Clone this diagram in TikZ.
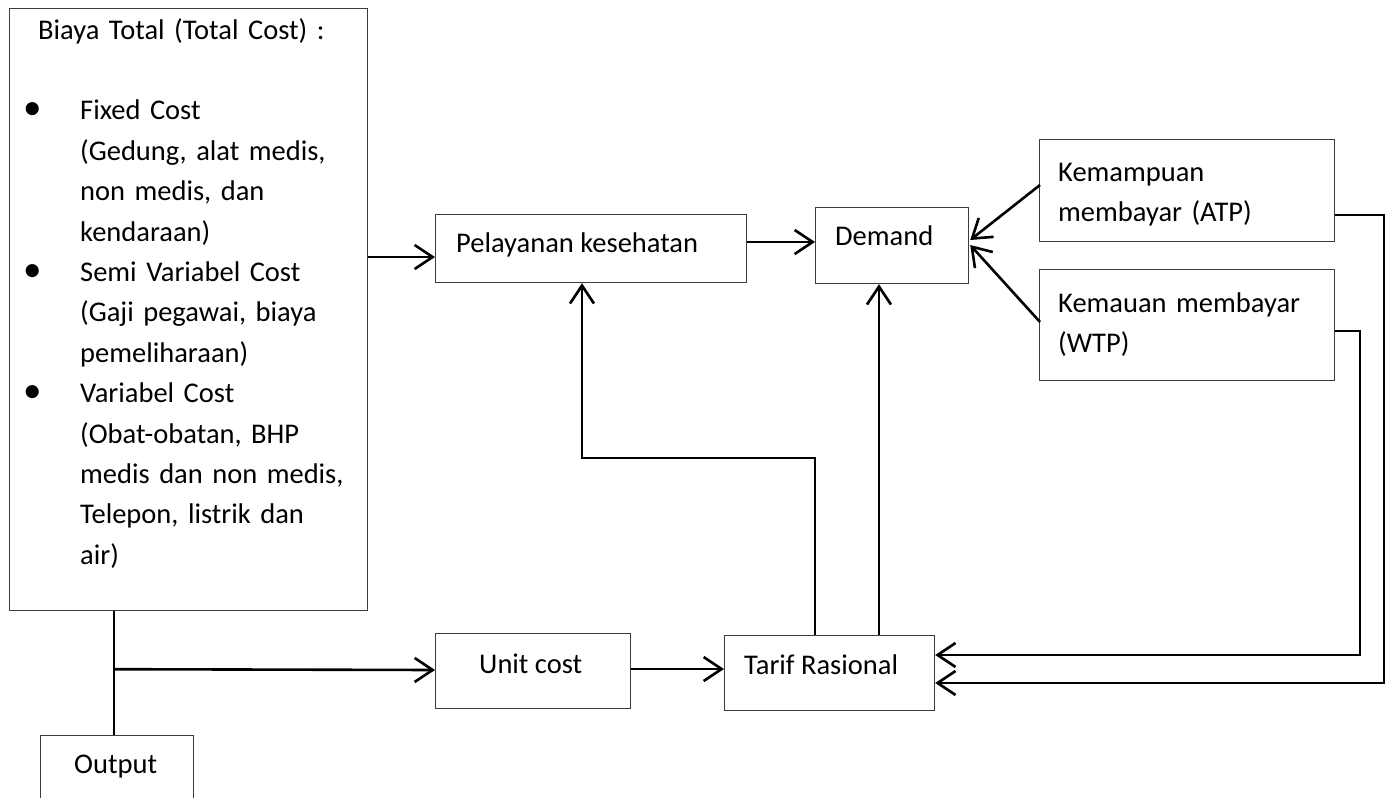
\documentclass[tikz,border=0pt]{standalone}
\usepackage{fontspec}
\setmainfont{Carlito}
\usetikzlibrary{arrows.meta,calc}
\definecolor{boxc}{RGB}{60,60,60}
\newcommand\itembul{\makebox[56pt][l]{\hspace*{-1pt}\scalebox{1.3}{\textbullet}}}
\newcommand\itemind{\hspace*{56pt}}
\begin{document}
\begin{tikzpicture}[x=1pt,y=-1pt,
  box/.style={draw=boxc, line width=1.2pt, inner sep=0pt, anchor=north west},
  txt/.style={inner sep=0pt, anchor=base west, font=\fontsize{28.5pt}{40.4pt}\selectfont, align=left},
  conn/.style={line width=2.6pt, black},
  arr/.style={conn, -{Straight Barb[length=18pt,width=24pt]}}]
\useasboundingbox (0,0) rectangle (1385,798);
\clip (0,0) rectangle (1385,798);
\fill[white] (0,0) rectangle (1385,798);
% boxes
\node[box, minimum width=358pt, minimum height=602pt] (big) at (9,8) {};
\node[box, minimum width=153pt, minimum height=90pt] (out) at (40,735) {};
\node[box, minimum width=311pt, minimum height=68pt] (pel) at (435,214) {};
\node[box, minimum width=153pt, minimum height=76pt] (dem) at (815,207) {};
\node[box, minimum width=295pt, minimum height=102pt] (kem) at (1039,139) {};
\node[box, minimum width=295pt, minimum height=111pt] (kmu) at (1039,269) {};
\node[box, minimum width=195pt, minimum height=75pt] (unit) at (435,633) {};
\node[box, minimum width=210pt, minimum height=75pt] (tar) at (724,635) {};
% texts
\node[txt, text width=340pt] (tbig) at (24,39) {\hspace*{14pt}Biaya Total (Total Cost) :\\[40.4pt]
\itembul Fixed Cost\\
\itemind (Gedung, alat medis,\\
\itemind non medis, dan\\
\itemind kendaraan)\\
\itembul Semi Variabel Cost\\
\itemind (Gaji pegawai, biaya\\
\itemind pemeliharaan)\\
\itembul Variabel Cost\\
\itemind (Obat-obatan, BHP\\
\itemind medis dan non medis,\\
\itemind Telepon, listrik dan\\
\itemind air)};
\node[txt] (tout) at (74,773) {Output};
\node[txt] (tpel) at (456,252) {Pelayanan kesehatan};
\node[txt] (tdem) at (835,245) {Demand};
\node[txt, text width=270pt] (tkem) at (1058,181) {Kemampuan\\membayar (ATP)};
\node[txt, text width=270pt] (tkmu) at (1058,312) {Kemauan membayar\\(WTP)};
\node[txt] (tunit) at (479,673) {Unit cost};
\node[txt] (ttar) at (744,674) {Tarif Rasional};
% connectors
\coordinate (k1) at (582,458);
\coordinate (c1) at (1384,683);
\coordinate (c2) at (1360,655);
\draw[arr] ($(big.north east)+(0,249)$) -- ($(pel.north west)+(0,43)$);
\draw[arr] ($(pel.north east)+(0,28)$) -- ($(dem.north west)+(0,35)$);
\draw[arr] ($(kem.north west)+(1,46)$) -- ($(dem.north east)+(1,33)$);
\draw[arr] ($(kmu.north west)+(1,53)$) -- ($(dem.north east)+(1,38)$);
\draw[arr] ($(tar.north west)+(91,0)$) |- (k1) -- ($(pel.south west)+(147,0)$);
\draw[arr] ($(tar.north west)+(155,0)$) -- ($(dem.south west)+(64,0)$);
\draw[conn] ($(big.south west)+(105,0)$) -- ($(out.north west)+(74,0)$);
\draw[arr] ($(big.south west)+(106,58)$) -- ($(unit.north west)+(0,37)$);
\draw[arr] ($(unit.north east)+(0,36)$) -- ($(tar.north west)+(0,34)$);
\draw[arr] ($(kem.north east)+(0,76)$) -| (c1) -- ($(tar.north east)+(0,48)$);
\draw[arr] ($(kmu.north east)+(0,62)$) -| (c2) -- ($(tar.north east)+(0,20)$);
\end{tikzpicture}
\end{document}
